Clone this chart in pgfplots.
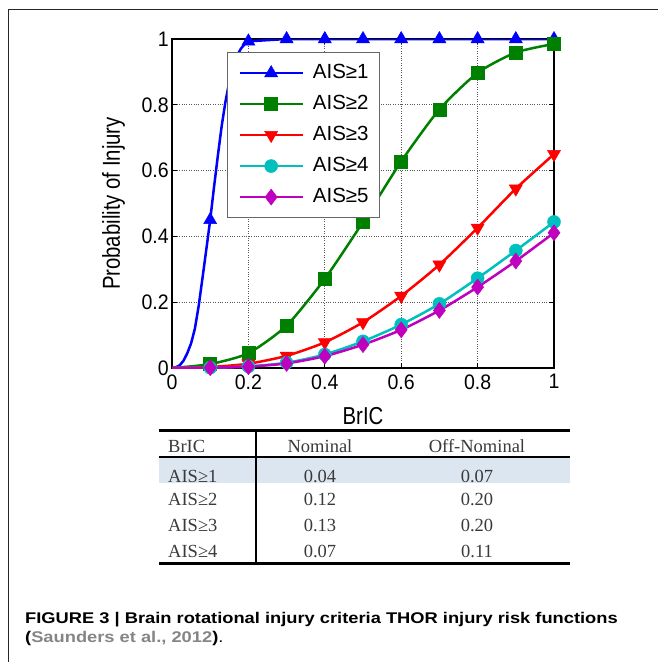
\documentclass[border=0pt]{standalone}
\usepackage{pgfplots}
\pgfplotsset{compat=1.18}
\usepackage{graphicx}
\usepackage{fontspec}
\setmainfont{Liberation Sans}
\newfontfamily\tabfont{Liberation Serif}
\definecolor{mblue}{rgb}{0,0,1}
\definecolor{mgreen}{rgb}{0,0.5,0}
\definecolor{mred}{rgb}{1,0,0}
\definecolor{mcyan}{rgb}{0,0.75,0.75}
\definecolor{mmag}{rgb}{0.75,0,0.75}
\definecolor{rowblue}{HTML}{DCE6F1}
\definecolor{capgray}{HTML}{858585}
\definecolor{tabtext}{HTML}{3A3A3A}

\begin{document}
\begin{tikzpicture}
\useasboundingbox (0pt,0pt) rectangle (658pt,-662pt);
\draw[line width=1pt, black!85] (8pt,-662pt) -- (8pt,-9pt) -- (658pt,-9pt);
\begin{axis}[
  at={(172pt,-368pt)}, anchor=south west,
  width=382pt, height=329pt, scale only axis,
  xmin=0, xmax=1, ymin=0, ymax=1,
  xtick={0,0.2,0.4,0.6,0.8,1}, ytick={0,0.2,0.4,0.6,0.8,1},
  /pgf/number format/assume math mode=true,
  tick label style={font=\fontsize{21}{24}\selectfont, xscale=0.93},
  xticklabel style={yshift=-3pt},
  grid=major,
  major grid style={dotted, line width=0.7pt, black!65},
  axis line style={line width=2pt},
  tick style={line width=1pt, black},
  tick align=inside, major tick length=5pt,
  xlabel={\scalebox{0.83}[1]{BrIC}},
  ylabel={\scalebox{0.83}[1]{Probability of Injury}},
  label style={font=\fontsize{24.5}{28}\selectfont},
  xlabel style={at={(axis description cs:0.5,-0.146)}, anchor=center},
  ylabel style={at={(axis description cs:-0.153,0.5)}, anchor=center},
  legend style={at={(0.144,0.96)}, anchor=north west, draw=black!60, line width=0.8pt,
    fill=white, font=\fontsize{20.5}{24}\selectfont,
    nodes={inner sep=0pt, text height=15pt, text depth=4pt},
    row sep=12pt, column sep=9pt, inner xsep=11pt, inner ysep=11pt},
  legend cell align=left,
  legend image code/.code={\draw[mark repeat=2,mark phase=2] plot coordinates {(0pt,0pt) (31.5pt,0pt) (63pt,0pt)};},
]
\addlegendimage{mblue, line width=2.5pt, mark=triangle*, mark size=7.5pt, mark options={line width=0.5pt, fill=mblue}}
\addplot[forget plot, mblue, line width=2.5pt, mark=triangle*, mark size=7.5pt, mark options={line width=0.5pt, fill=mblue},
  mark indices={11,21,22,23,24,25,26,27,28,29}] coordinates {
(0,0) (0.01,0.002) (0.02,0.008) (0.03,0.022) (0.04,0.045) (0.05,0.075) (0.06,0.12) (0.07,0.19)
(0.08,0.275) (0.09,0.362) (0.1,0.45) (0.11,0.55) (0.12,0.645) (0.13,0.735) (0.14,0.81)
(0.15,0.87) (0.16,0.915) (0.17,0.948) (0.18,0.97) (0.19,0.984) (0.2,0.993)
(0.3,1) (0.4,1) (0.5,1) (0.6,1) (0.7,1) (0.8,1) (0.9,1) (1,1)};
\addplot[mgreen, line width=2.5pt, smooth, tension=0.4, mark=square*, mark size=6.5pt, mark options={line width=0.5pt, fill=mgreen},
  mark phase=2] coordinates {
(0,0) (0.1,0.012) (0.2,0.045) (0.3,0.129) (0.4,0.271) (0.5,0.444) (0.6,0.628) (0.7,0.786) (0.8,0.897) (0.9,0.959) (1,0.985)};
\addplot[mred, line width=2.5pt, smooth, tension=0.4, mark=triangle*, mark size=7.5pt, mark options={line width=0.5pt, fill=mred, rotate=180},
  mark phase=2] coordinates {
(0,0) (0.1,0.003) (0.2,0.013) (0.3,0.037) (0.4,0.078) (0.5,0.139) (0.6,0.219) (0.7,0.314) (0.8,0.426) (0.9,0.545) (1,0.65)};
\addplot[mcyan, line width=2.5pt, smooth, tension=0.4, mark=*, mark size=6.5pt, mark options={line width=0.5pt, fill=mcyan},
  mark phase=2] coordinates {
(0,0) (0.1,0.001) (0.2,0.005) (0.3,0.016) (0.4,0.041) (0.5,0.081) (0.6,0.132) (0.7,0.195) (0.8,0.273) (0.9,0.357) (1,0.444)};
\addplot[mmag, line width=2.5pt, smooth, tension=0.4, mark=diamond*, mark size=8pt, mark options={line width=0.5pt, fill=mmag},
  mark phase=2] coordinates {
(0,0) (0.1,0.001) (0.2,0.004) (0.3,0.014) (0.4,0.036) (0.5,0.071) (0.6,0.116) (0.7,0.175) (0.8,0.246) (0.9,0.325) (1,0.411)};
\legend{AIS≥1, AIS≥2, AIS≥3, AIS≥4, AIS≥5}
\end{axis}
\begin{scope}[x=1pt, y=-1pt]
  \fill[rowblue] (159,458) rectangle (570,483);
  \draw[line width=3pt] (159,430) -- (570,430);
  \draw[line width=1.2pt] (159,457) -- (570,457);
  \draw[line width=3pt] (159,563) -- (570,563);
  \draw[line width=1.5pt] (256,430) -- (256,564.5);
  \begin{scope}[every node/.style={inner sep=0pt, text=tabtext, font=\tabfont\fontsize{18.5}{21}\selectfont}]
    \node[anchor=base west] at (168,452) {BrIC};
    \node[anchor=base] at (320,452) {Nominal};
    \node[anchor=base] at (477,452) {Off-Nominal};
    \node[anchor=base west] at (168,482) {AIS≥1};
    \node[anchor=base] at (320,482) {0.04};
    \node[anchor=base] at (477,482) {0.07};
    \node[anchor=base west] at (168,505) {AIS≥2};
    \node[anchor=base] at (320,505) {0.12};
    \node[anchor=base] at (477,505) {0.20};
    \node[anchor=base west] at (168,531) {AIS≥3};
    \node[anchor=base] at (320,531) {0.13};
    \node[anchor=base] at (477,531) {0.20};
    \node[anchor=base west] at (168,557) {AIS≥4};
    \node[anchor=base] at (320,557) {0.07};
    \node[anchor=base] at (477,557) {0.11};
  \end{scope}
  \begin{scope}[every node/.style={inner sep=0pt, font=\bfseries\fontsize{15.5}{19}\selectfont}]
    \node[anchor=base west] at (25,623) {\scalebox{1.18}[1]{FIGURE 3 | Brain rotational injury criteria THOR injury risk functions}};
    \node[anchor=base west] at (25,642) {\scalebox{1.18}[1]{(\textcolor{capgray}{Saunders et al., 2012})\mdseries.}};
  \end{scope}
\end{scope}
\end{tikzpicture}
\end{document}
